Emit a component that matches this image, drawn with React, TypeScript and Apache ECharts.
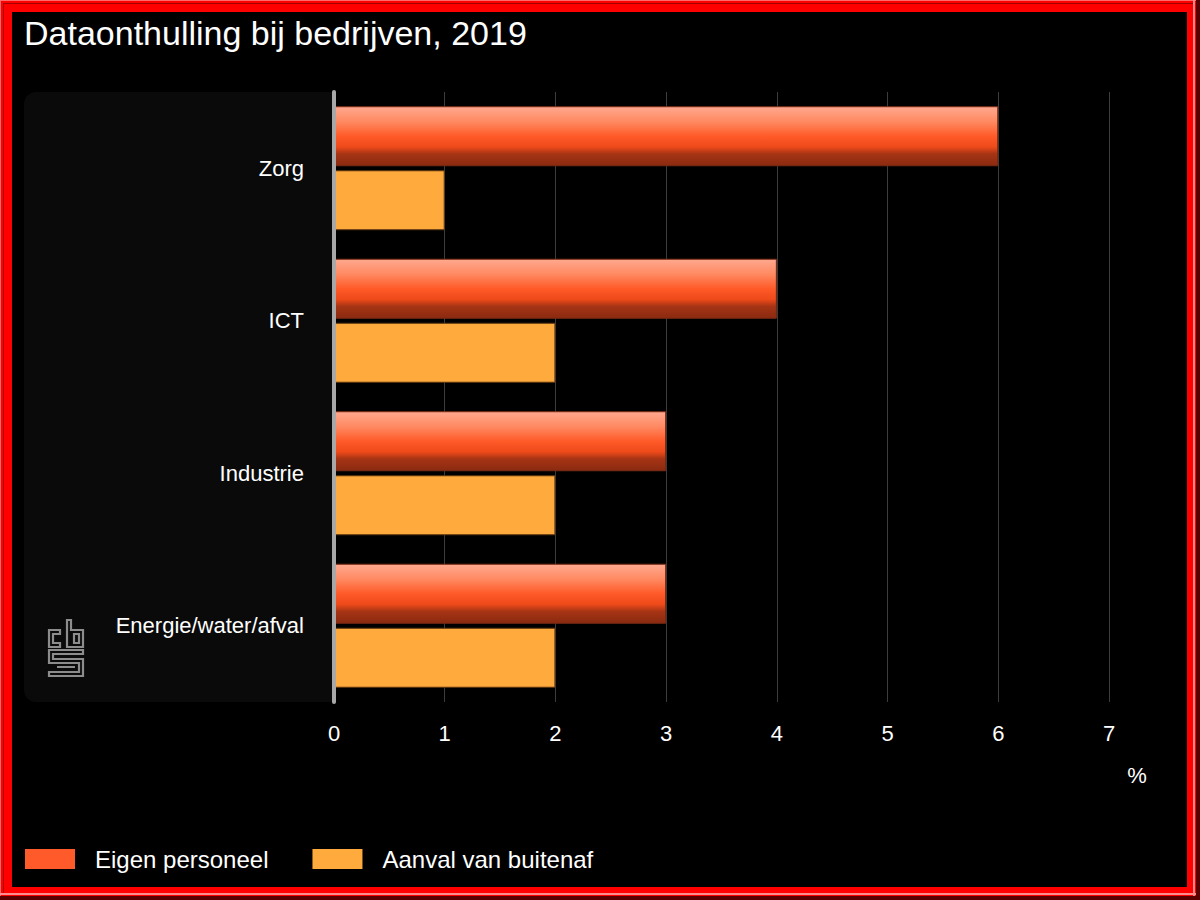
import React, { useEffect, useRef } from "react";
import * as echarts from "echarts";

const TITLE = "Dataonthulling bij bedrijven, 2019";
const categories = ["Zorg", "ICT", "Industrie", "Energie/water/afval"];
const eigenPersoneel = [6, 4, 3, 3];
const aanvalVanBuitenaf = [1, 2, 2, 2];
const seriesNames = ["Eigen personeel", "Aanval van buitenaf"];
const axisUnit = "%";
const xMin = 0;
const xMax = 7;
const xInterval = 1;

const FONT = "Arial";

const LOGO_PATH =
  "M12 10 L1 10 L1 27 L12 27 L12 23 L5 23 L5 14 L12 14 Z " +
  "M19 0 L23 0 L23 10 L35 10 L35 27 L19 27 Z M26 14 L31 14 L31 23 L26 23 Z " +
  "M1 30 L35 30 L35 34 L5 34 L5 39 L35 39 L35 56 L1 56 L1 52 L31 52 L31 43 L1 43 Z " +
  "M9 47 L27 47";

let registered = false;

export default function App() {
  const ref = useRef<HTMLDivElement>(null);

  useEffect(() => {
    if (!ref.current) return;
    if (!registered) {
      echarts.graphic.registerShape("cbslogo", echarts.graphic.extendPath(LOGO_PATH, {}));
      registered = true;
    }
    const chart = echarts.init(ref.current, undefined, { renderer: "svg" });
    const redGradient = new echarts.graphic.LinearGradient(0, 0, 0, 1, [
      { offset: 0, color: "#ffa88f" },
      { offset: 0.25, color: "#ff8a62" },
      { offset: 0.5, color: "#ff5a28" },
      { offset: 0.68, color: "#ee4a1a" },
      { offset: 0.8, color: "#a63414" },
      { offset: 1, color: "#8a2a10" },
    ]);
    chart.setOption({
      animation: false,
      backgroundColor: "#000000",
      textStyle: { fontFamily: FONT },
      title: {
        text: TITLE,
        left: 24,
        top: 16,
        padding: 0,
        textStyle: { color: "#ffffff", fontSize: 34, fontWeight: "normal", fontFamily: FONT },
      },
      graphic: [
        { type: "rect", z: -20, silent: true, shape: { x: 0, y: 0, width: 1200, height: 900 }, style: { fill: "#ff0000" } },
        { type: "rect", z: -19, silent: true, shape: { x: 0, y: 0, width: 1200, height: 1 }, style: { fill: "#ff6a6a" } },
        { type: "rect", z: -19, silent: true, shape: { x: 0, y: 0, width: 1, height: 900 }, style: { fill: "#ff6a6a" } },
        { type: "rect", z: -19, silent: true, shape: { x: 3, y: 3, width: 1191, height: 1 }, style: { fill: "#a00000" } },
        { type: "rect", z: -19, silent: true, shape: { x: 3, y: 3, width: 1, height: 891 }, style: { fill: "#a00000" } },
        { type: "rect", z: -19, silent: true, shape: { x: 0, y: 893, width: 1196, height: 2 }, style: { fill: "#ff8c8c" } },
        { type: "rect", z: -19, silent: true, shape: { x: 1193, y: 0, width: 2, height: 896 }, style: { fill: "#ff8c8c" } },
        { type: "rect", z: -18, silent: true, shape: { x: 0, y: 896, width: 1200, height: 4 }, style: { fill: "#5a0000" } },
        { type: "rect", z: -18, silent: true, shape: { x: 1196, y: 0, width: 4, height: 900 }, style: { fill: "#5a0000" } },
        { type: "rect", z: -17, silent: true, shape: { x: 12, y: 12, width: 1175, height: 875 }, style: { fill: "#000000" } },
        { type: "rect", z: -16, silent: true, shape: { x: 24, y: 92, width: 320, height: 610, r: 12 }, style: { fill: "#0a0a0a" } },
        { type: "rect", z: -15, silent: true, shape: { x: 333, y: 92, width: 20, height: 610 }, style: { fill: "#000000" } },
        {
          type: "cbslogo",
          z: -14,
          silent: true,
          x: 48,
          y: 620,
          scaleX: 1,
          scaleY: 1,
          style: { fill: "none", stroke: "#8c8c8c", lineWidth: 2.2 },
        },
        {
          type: "text",
          x: 1137,
          y: 775,
          silent: true,
          style: {
            text: axisUnit,
            fill: "#ffffff",
            fontSize: 22,
            fontFamily: FONT,
            textAlign: "center",
            textVerticalAlign: "middle",
          },
        },
      ],
      legend: {
        left: 25,
        top: 847,
        padding: 0,
        itemWidth: 50,
        itemHeight: 20,
        itemGap: 44,
        icon: "rect",
        textStyle: { color: "#ffffff", fontSize: 24, fontFamily: FONT, padding: [0, 0, 0, 15] },
        data: [
          { name: seriesNames[0], itemStyle: { color: "#ff5a2a", borderWidth: 0 } },
          { name: seriesNames[1], itemStyle: { color: "#ffaa3c", borderWidth: 0 } },
        ],
      },
      grid: { left: 334, right: 91, top: 92, bottom: 198, containLabel: false },
      xAxis: {
        type: "value",
        min: xMin,
        max: xMax,
        interval: xInterval,
        axisLine: { show: false },
        axisTick: { show: false },
        axisLabel: { color: "#ffffff", fontSize: 22, margin: 20, fontFamily: FONT },
        splitLine: { show: true, lineStyle: { color: "#3c3c3c", width: 1 } },
      },
      yAxis: {
        type: "category",
        data: categories,
        inverse: true,
        z: 5,
        axisLine: { show: true, lineStyle: { color: "#a8a8a8", width: 4 } },
        axisTick: { show: false },
        axisLabel: { color: "#ffffff", fontSize: 22, margin: 30, fontFamily: FONT },
        splitLine: { show: false },
      },
      series: [
        {
          name: seriesNames[0],
          type: "bar",
          data: eigenPersoneel,
          barWidth: 60,
          barGap: "6.7%",
          itemStyle: { color: redGradient, borderColor: "#7a2a14", borderWidth: 1 },
        },
        {
          name: seriesNames[1],
          type: "bar",
          data: aanvalVanBuitenaf,
          barWidth: 60,
          barGap: "6.7%",
          itemStyle: { color: "#ffaa3c", borderColor: "#5a3510", borderWidth: 1 },
        },
      ],
    });
    return () => chart.dispose();
  }, []);

  return (
    <div
      ref={ref}
      style={{ position: "absolute", left: 0, top: 0, width: 1200, height: 900 }}
    />
  );
}
